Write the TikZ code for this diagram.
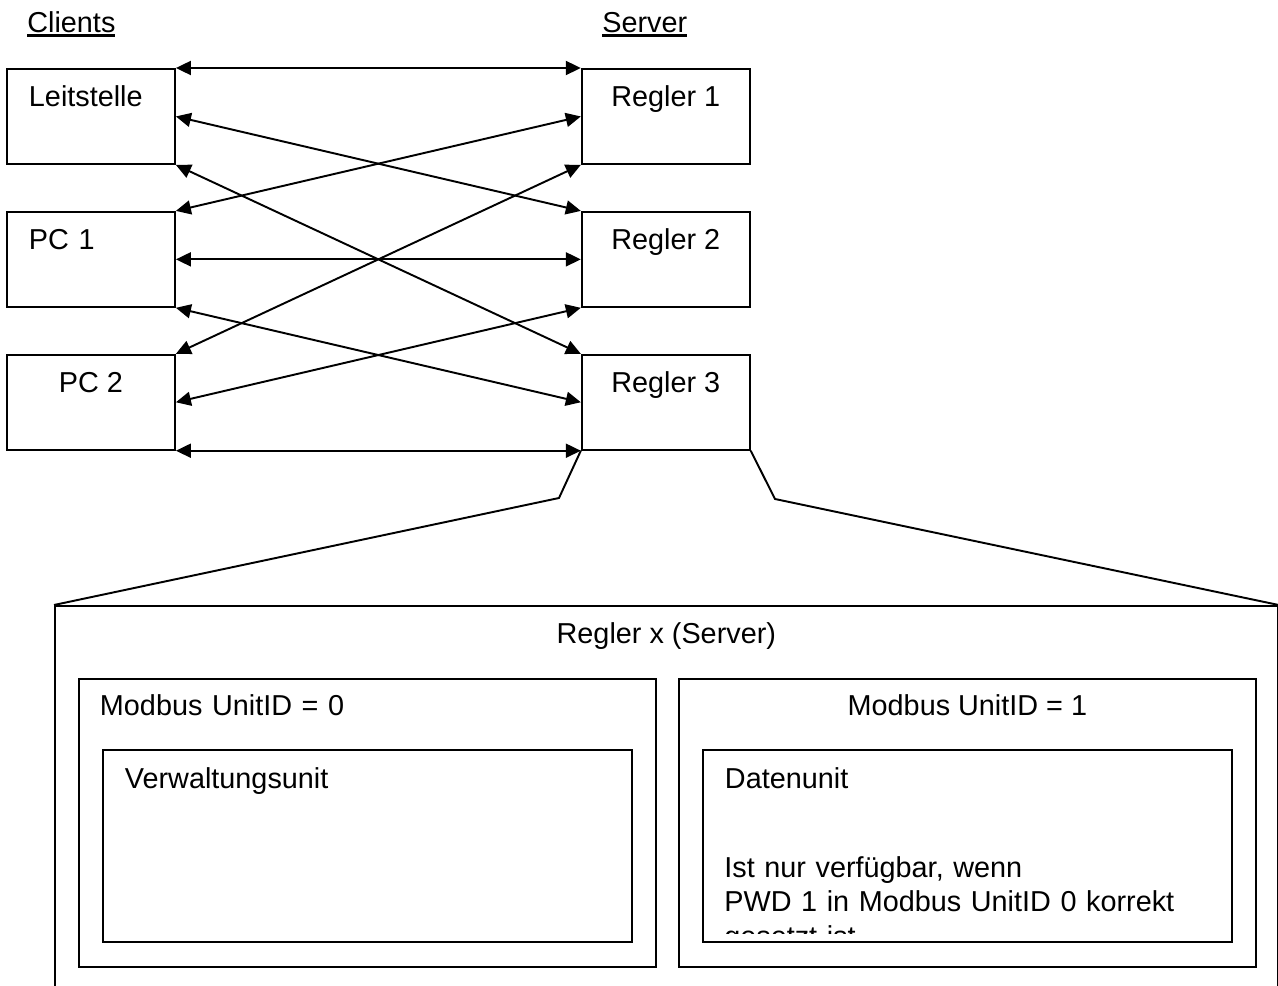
\documentclass[tikz,border=0pt]{standalone}
\usepackage{fontspec}
\setmainfont{Liberation Sans}
\usetikzlibrary{positioning,arrows.meta}
\newcommand{\diagfont}{\fontsize{16.4}{19.9}\selectfont}
\newcommand{\headtext}[1]{\setbox0\hbox{#1}\rlap{\rule[-2.3pt]{\wd0}{1.9pt}}\box0}
\tikzstyle{leftblock} = [rectangle, draw=black, line width=1.1pt, inner ysep=0pt, inner xsep=0.44cm, text width=2.48cm, align=left, text height=0.76cm, text depth=1.14cm, font=\diagfont]
\tikzstyle{midblock} = [rectangle, draw=black, line width=1.1pt, inner sep=0pt, minimum width=3.36cm, align=center, text height=0.76cm, text depth=1.14cm, font=\diagfont]
\tikzstyle{head} = [inner sep=0pt, font=\diagfont]
\tikzstyle{note} = [inner sep=0pt, text width=9.7cm, align=left, font=\diagfont]
\tikzstyle{biarrow} = [line width=1.1pt, {Triangle[length=0.3cm,width=0.28cm]}-{Triangle[length=0.3cm,width=0.28cm]}]
\tikzstyle{zoomline} = [line width=1.1pt]

\begin{document}
\begin{tikzpicture}[x=0.02cm, y=-0.02cm, node distance=0.92cm and 8.1cm]
	\useasboundingbox (0,0) rectangle (1278,986);
	\clip (0,0) rectangle (1278,986);

	\node (clients) [head, anchor=base west] at (27,33) {\headtext{Clients}};
	\node (server) [head, anchor=base west] at (602,33) {\headtext{Server}};

	\node (leit) [leftblock, anchor=north west] at (6,68) {Leitstelle};
	\node (pc1) [leftblock, below=of leit] {PC 1};
	\node (pc2) [midblock, below=of pc1] {PC 2};
	\node (r1) [midblock, right=of leit] {Regler 1};
	\node (r2) [midblock, below=of r1] {Regler 2};
	\node (r3) [midblock, below=of r2] {Regler 3};

	\draw [biarrow] (leit.north east) -- (r1.north west);
	\draw [biarrow] (leit.east) -- (r2.north west);
	\draw [biarrow] (leit.south east) -- (r3.north west);
	\draw [biarrow] (pc1.north east) -- (r1.west);
	\draw [biarrow] (pc1.east) -- (r2.west);
	\draw [biarrow] (pc1.south east) -- (r3.west);
	\draw [biarrow] (pc2.north east) -- (r1.south west);
	\draw [biarrow] (pc2.east) -- (r2.south west);
	\draw [biarrow] (pc2.south east) -- (r3.south west);

	% detail of one Regler
	\node (regx) [midblock, minimum width=24.46cm, text depth=8cm, anchor=north west] at (54,605) {Regler x (Server)};
	\coordinate (bendl) at (559,498);
	\coordinate (bendr) at (775,499);
	\draw [zoomline] (r3.south west) -- (bendl) -- (regx.north west);
	\draw [zoomline] (r3.south east) -- (bendr) -- (regx.north east);

	\node (mod0) [leftblock, text width=10.7cm, inner xsep=0.42cm, text height=0.74cm, text depth=5.02cm, anchor=north west] at (78,678) {Modbus UnitID = 0};
	\node (mod1) [midblock, minimum width=11.54cm, text height=0.74cm, text depth=5.02cm, anchor=north west] at (678,678) {Modbus UnitID = 1};
	\node (verw) [leftblock, text width=9.7cm, text height=0.78cm, text depth=3.06cm, anchor=north west] at (102,749) {Verwaltungsunit};
	\node (daten) [leftblock, text width=9.7cm, text height=0.78cm, text depth=3.06cm, anchor=north west] at (702,749) {Datenunit};

	\begin{scope}
		\clip (daten.north west) rectangle (1230,933);
		\node (dnote) [note, anchor=base west] at (724,877) {Ist nur verfügbar, wenn\\PWD 1 in Modbus UnitID 0 korrekt\\gesetzt ist};
	\end{scope}

\end{tikzpicture}
\end{document}
